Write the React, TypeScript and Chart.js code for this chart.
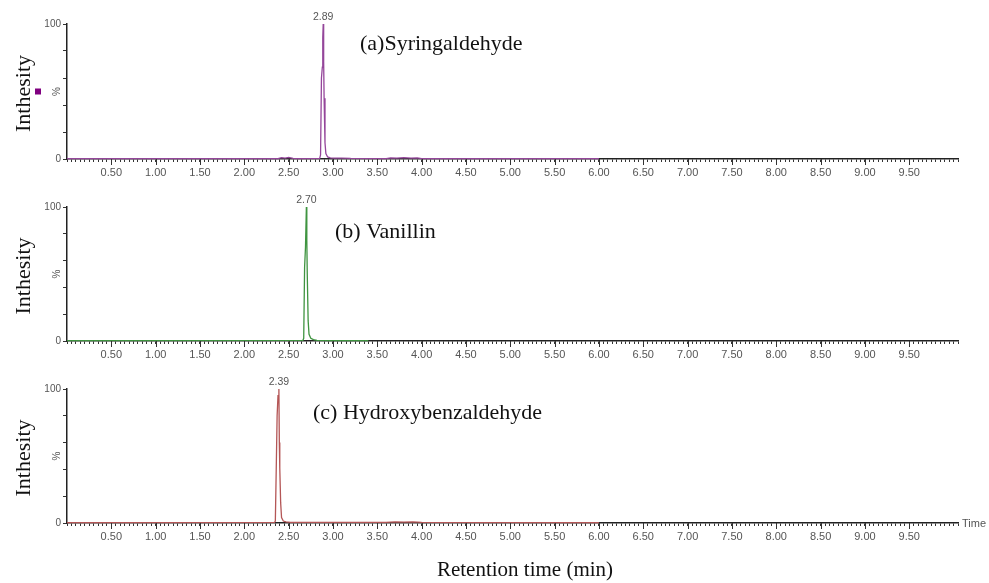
import React, { useEffect, useRef } from "react";
import { Chart, registerables } from "chart.js";

Chart.register(...registerables);

// ---- data ----
const timesA = [0.0, 2.38, 2.42, 2.46, 2.5, 2.55, 2.6, 2.85, 2.86, 2.87, 2.88, 2.885, 2.89, 2.895, 2.9, 2.91, 2.92, 2.94, 2.97, 3.0, 3.1, 3.2, 3.6, 3.65, 3.72, 3.8, 3.88, 3.95, 4.0, 6.0];
const valuesA = [0.3, 0.3, 1.0, 0.6, 1.2, 0.5, 0.3, 0.4, 3, 60, 68, 90, 100, 72, 45, 12, 4, 1.5, 0.8, 0.6, 0.6, 0.4, 0.3, 0.9, 0.6, 1.0, 0.7, 0.9, 0.3, 0.3];

const timesB = [0.0, 2.66, 2.67, 2.68, 2.69, 2.7, 2.705, 2.71, 2.72, 2.73, 2.75, 2.78, 2.82, 3.0, 3.4];
const valuesB = [0.3, 0.4, 2, 55, 70, 100, 75, 50, 15, 5, 2, 1, 0.5, 0.3, 0.3];

const timesC = [0.0, 2.34, 2.35, 2.36, 2.37, 2.38, 2.39, 2.395, 2.4, 2.41, 2.42, 2.44, 2.47, 2.52, 3.6, 3.7, 3.8, 3.9, 4.0, 6.0];
const valuesC = [0.3, 0.4, 1.5, 40, 80, 95, 100, 60, 41, 15, 4, 1.5, 0.8, 0.4, 0.4, 0.8, 0.6, 0.9, 0.4, 0.3];

const peakTimes = [2.89, 2.7, 2.39];
const peakLabels = ["2.89", "2.70", "2.39"];
const compoundNames = ["(a)Syringaldehyde", "(b) Vanillin", "(c) Hydroxybenzaldehyde"];
const yAxisTitle = "Inthesity";
const xAxisTitle = "Retention time (min)";
const timeLabel = "Time";

const X_MIN = 0;
const X_MAX = 10.05;

// ---- layout / styles ----
const panels = [
  { times: timesA, values: valuesA, color: "#94469a", areaTop: 24, areaBottom: 159, nameX: 360, nameY: 44, marker: true, showTime: false },
  { times: timesB, values: valuesB, color: "#3f9440", areaTop: 207, areaBottom: 341, nameX: 335, nameY: 232, marker: false, showTime: false },
  { times: timesC, values: valuesC, color: "#b45656", areaTop: 389, areaBottom: 523, nameX: 313, nameY: 413, marker: false, showTime: true },
];

const AREA_LEFT = 67;
const AREA_RIGHT = 958;
const TOP_PAD = 24;
const X_SCALE_H = 26;
const W = 989;

const isMajor = (v: number) => Math.abs(v * 2 - Math.round(v * 2)) < 1e-6;

function Panel({ idx }: { idx: number }) {
  const ref = useRef<HTMLCanvasElement | null>(null);
  const p = panels[idx];
  const canvasTop = p.areaTop - TOP_PAD;
  const canvasH = p.areaBottom - p.areaTop + TOP_PAD + X_SCALE_H;

  useEffect(() => {
    if (!ref.current) return;
    const points = p.times.map((t, i) => ({ x: t, y: p.values[i] }));

    const overlay = {
      id: "overlay" + idx,
      afterDraw(chart: any) {
        const ctx = chart.ctx;
        const xs = chart.scales.x;
        const ys = chart.scales.y;
        const area = chart.chartArea;
        ctx.save();
        // longer major ticks
        ctx.strokeStyle = "#333";
        ctx.lineWidth = 1;
        for (let k = 1; k <= 19; k++) {
          const v = k * 0.5;
          const px = Math.round(xs.getPixelForValue(v)) + 0.5;
          ctx.beginPath();
          ctx.moveTo(px, area.bottom);
          ctx.lineTo(px, area.bottom + 6);
          ctx.stroke();
        }
        // peak label
        ctx.fillStyle = "#555";
        ctx.font = "10.5px 'Liberation Sans', Arial, sans-serif";
        ctx.textAlign = "center";
        ctx.textBaseline = "bottom";
        ctx.fillText(peakLabels[idx], xs.getPixelForValue(peakTimes[idx]), ys.getPixelForValue(100) - 2);
        // compound name
        ctx.fillStyle = "#111";
        ctx.font = "22px 'Liberation Serif', 'Times New Roman', serif";
        ctx.textAlign = "left";
        ctx.textBaseline = "middle";
        ctx.fillText(compoundNames[idx], p.nameX, p.nameY - canvasTop);
        // y title
        const cy = (area.top + area.bottom) / 2;
        ctx.save();
        ctx.translate(24, cy + 2);
        ctx.rotate(-Math.PI / 2);
        ctx.font = "22px 'Liberation Serif', 'Times New Roman', serif";
        ctx.fillStyle = "#111";
        ctx.textAlign = "center";
        ctx.textBaseline = "middle";
        ctx.fillText(yAxisTitle, 0, 0);
        ctx.restore();
        // % label
        ctx.save();
        ctx.translate(57, ys.getPixelForValue(50));
        ctx.rotate(-Math.PI / 2);
        ctx.font = "10px 'Liberation Sans', Arial, sans-serif";
        ctx.fillStyle = "#555";
        ctx.textAlign = "center";
        ctx.textBaseline = "middle";
        ctx.fillText("%", 0, 0);
        ctx.restore();
        // legend marker
        if (p.marker) {
          ctx.fillStyle = "#800080";
          ctx.fillRect(35, cy - 3, 6, 6);
        }
        if (p.showTime) {
          ctx.fillStyle = "#555";
          ctx.font = "11px 'Liberation Sans', Arial, sans-serif";
          ctx.textAlign = "left";
          ctx.textBaseline = "middle";
          ctx.fillText(timeLabel, area.right + 4, area.bottom + 1);
        }
        ctx.restore();
      },
    };

    const chart = new Chart(ref.current, {
      type: "line",
      data: {
        datasets: [
          {
            data: points,
            borderColor: p.color,
            borderWidth: 1.3,
            pointRadius: 0,
            tension: 0,
            fill: false,
            clip: false as any,
          },
        ],
      },
      options: {
        animation: false,
        responsive: false,
        events: [],
        layout: { padding: { top: TOP_PAD, right: W - AREA_RIGHT, left: 0, bottom: 0 } },
        plugins: { legend: { display: false }, tooltip: { enabled: false }, title: { display: false } },
        scales: {
          x: {
            type: "linear",
            min: X_MIN,
            max: X_MAX,
            afterFit: (s: any) => {
              s.height = X_SCALE_H;
            },
            border: { display: true, color: "#222", width: 1.5 },
            grid: { display: true, drawOnChartArea: false, drawTicks: true, tickLength: 3, color: "#333", tickColor: "#333" },
            ticks: {
              stepSize: 0.05,
              maxTicksLimit: 1000,
              autoSkip: false,
              maxRotation: 0,
              minRotation: 0,
              padding: 4,
              color: "#555",
              font: { family: "'Liberation Sans', Arial, sans-serif", size: 11 },
              callback: (v: any) => {
                const n = Number(v);
                if (n < 0.25 || n > 9.75) return "";
                return isMajor(n) ? n.toFixed(2) : "";
              },
            },
          },
          y: {
            type: "linear",
            min: 0,
            max: 100,
            afterFit: (s: any) => {
              s.width = AREA_LEFT;
            },
            border: { display: true, color: "#222", width: 1.5 },
            grid: { display: true, drawOnChartArea: false, drawTicks: true, tickLength: 4, color: "#333", tickColor: "#333" },
            ticks: {
              stepSize: 10,
              padding: 2,
              color: "#555",
              font: { family: "'Liberation Sans', Arial, sans-serif", size: 10 },
              callback: (v: any) => (v === 100 ? "100" : v === 0 ? "0" : ""),
            },
          },
        },
      },
      plugins: [overlay],
    } as any);
    return () => chart.destroy();
  }, [idx]);

  return (
    <canvas
      ref={ref}
      width={W}
      height={canvasH}
      style={{ position: "absolute", left: 0, top: canvasTop, width: W, height: canvasH, display: "block" }}
    />
  );
}

export default function App() {
  useEffect(() => {
    document.body.style.margin = "0";
  }, []);
  return (
    <div style={{ position: "relative", width: W, height: 583, background: "#fff", overflow: "hidden" }}>
      <Panel idx={0} />
      <Panel idx={1} />
      <Panel idx={2} />
      <div
        style={{
          position: "absolute",
          left: 0,
          width: 1050,
          top: 555,
          textAlign: "center",
          fontFamily: "'Liberation Serif', 'Times New Roman', serif",
          fontSize: 21,
          color: "#111",
          lineHeight: "28px",
        }}
      >
        {xAxisTitle}
      </div>
    </div>
  );
}
